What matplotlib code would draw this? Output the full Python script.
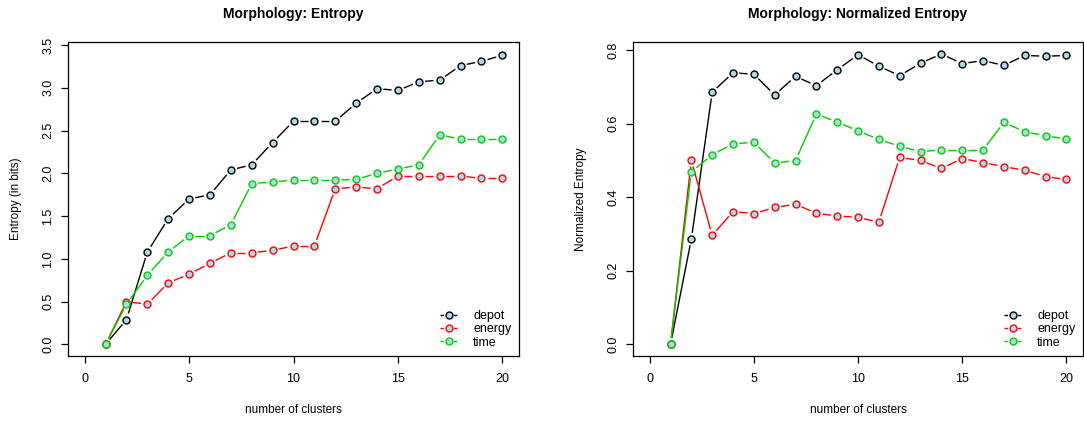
import numpy as np
import matplotlib
matplotlib.use("Agg")
import matplotlib.pyplot as plt
from matplotlib.lines import Line2D

plt.rcParams['font.family'] = ['Liberation Sans', 'DejaVu Sans']

clusters = list(range(1, 21))

# left panel: entropy in bits
ent_depot = [0.0, 0.29, 1.08, 1.47, 1.70, 1.75, 2.04, 2.10, 2.36, 2.61,
             2.61, 2.61, 2.82, 2.99, 2.97, 3.07, 3.09, 3.26, 3.31, 3.38]
ent_energy = [0.0, 0.50, 0.47, 0.72, 0.82, 0.95, 1.07, 1.07, 1.10, 1.15,
              1.15, 1.82, 1.84, 1.82, 1.97, 1.97, 1.97, 1.97, 1.94, 1.94]
ent_time = [0.0, 0.47, 0.81, 1.08, 1.27, 1.27, 1.40, 1.88, 1.90, 1.92,
            1.92, 1.92, 1.93, 2.00, 2.05, 2.10, 2.45, 2.40, 2.40, 2.40]

# right panel: normalized entropy
nent_depot = [0.0, 0.286, 0.685, 0.738, 0.734, 0.678, 0.728, 0.703, 0.746, 0.787,
              0.756, 0.730, 0.764, 0.789, 0.763, 0.771, 0.758, 0.785, 0.783, 0.785]
nent_energy = [0.0, 0.500, 0.296, 0.361, 0.355, 0.372, 0.381, 0.356, 0.349, 0.345,
               0.332, 0.508, 0.500, 0.478, 0.505, 0.494, 0.483, 0.473, 0.456, 0.448]
nent_time = [0.0, 0.469, 0.515, 0.545, 0.549, 0.493, 0.499, 0.626, 0.604, 0.580,
             0.557, 0.538, 0.524, 0.528, 0.528, 0.528, 0.603, 0.578, 0.567, 0.558]

series_names = ['depot', 'energy', 'time']
series_colors = ['black', 'red', '#00CD00']
fill = '#ADD8E6'

fig = plt.figure(figsize=(10.84, 4.21), dpi=100)


def b_line(ax, x, y, color, gap=6.3):
    # R type="b": line segments stop short of each point
    pts = ax.transData.transform(np.column_stack([x, y]))
    inv = ax.transData.inverted()
    for p, q in zip(pts[:-1], pts[1:]):
        d = q - p
        L = np.hypot(d[0], d[1])
        if L <= 2 * gap:
            continue
        u = d / L
        seg = inv.transform(np.array([p + u * gap, q - u * gap]))
        ax.plot(seg[:, 0], seg[:, 1], color=color, lw=1, solid_capstyle='butt')
    ax.plot(x, y, 'o', ls='none', mfc=fill, mec=color, ms=5, mew=1.0, zorder=3)


def panel(rect, series, ylim, yticks, ylabel, title):
    ax = fig.add_axes(rect)
    ax.set_xlim(-0.8, 20.8)
    ax.set_ylim(*ylim)
    ax.set_xticks([0, 5, 10, 15, 20])
    ax.set_yticks(yticks)
    ax.set_yticklabels(['%.1f' % v for v in yticks], rotation=90, va='center')
    ax.tick_params(axis='both', direction='out', length=5, width=0.9,
                   labelsize=9, colors='black')
    ax.tick_params(axis='x', pad=7)
    ax.tick_params(axis='y', pad=5)
    for s in ax.spines.values():
        s.set_linewidth(0.9)
    for vals, c in zip(series, series_colors):
        b_line(ax, clusters, vals, c)
    ax.set_title(title, fontsize=10, fontweight='bold', pad=17)
    ax.set_xlabel('number of clusters', fontsize=8.5)
    ax.xaxis.set_label_coords(0.5, -0.172)
    ax.xaxis.label.set_va('center')
    ax.set_ylabel(ylabel, fontsize=8.5)
    ax.yaxis.label.set_va('center')
    handles = [Line2D([], [], color=c, lw=1, dashes=(2.5, 7.15), marker='o',
                      mfc=fill, mec=c, ms=5, mew=1.0) for c in series_colors]
    ax.legend(handles, series_names, loc='lower right', frameon=False,
              fontsize=9, handlelength=1.35, handletextpad=1.3,
              labelspacing=0.1, borderaxespad=0.2)
    return ax


axl = panel([68 / 1084, 65 / 421, 451 / 1084, 314 / 421],
            [ent_depot, ent_energy, ent_time], (-0.136, 3.536),
            [0.0, 0.5, 1.0, 1.5, 2.0, 2.5, 3.0, 3.5],
            'Entropy (in bits)', 'Morphology: Entropy')
axl.yaxis.set_label_coords(-0.116, 0.5)

axr = panel([633 / 1084, 65 / 421, 450 / 1084, 314 / 421],
            [nent_depot, nent_energy, nent_time], (-0.0316, 0.8216),
            [0.0, 0.2, 0.4, 0.6, 0.8],
            'Normalized Entropy', 'Morphology: Normalized Entropy')
axr.yaxis.set_label_coords(-0.116, 0.5)

fig.savefig('out.png', dpi=100)
